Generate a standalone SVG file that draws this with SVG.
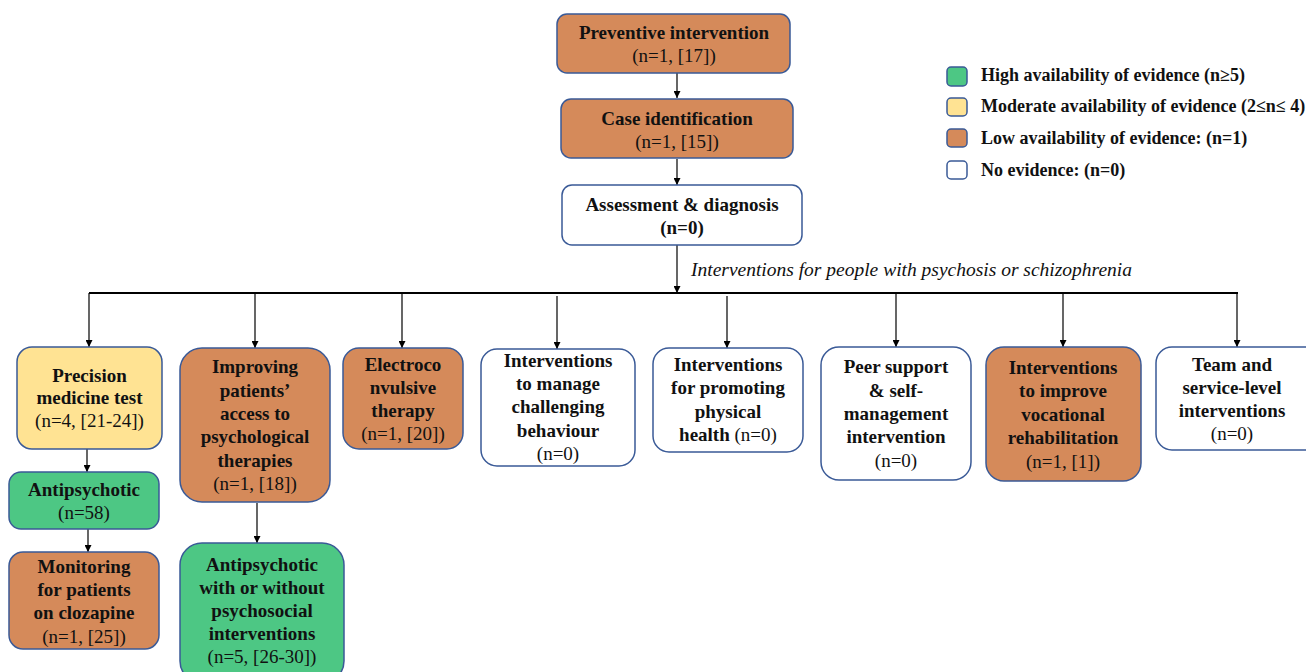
<svg xmlns="http://www.w3.org/2000/svg" width="1306" height="672" viewBox="0 0 1306 672">
<style>
  .box{stroke:#3A5A97;stroke-width:1.5}
  .low{fill:#D58A5A}
  .mod{fill:#FFE393}
  .high{fill:#4DC784}
  .none{fill:#FFFFFF}
  text{font-family:'Liberation Serif',Tinos,'Times New Roman',Times,'DejaVu Serif',serif;font-size:19px;fill:#111;text-anchor:middle}
  .b{font-weight:bold}
  .leg{font-size:18px;font-weight:bold;text-anchor:start}
  .lbl{font-style:italic;text-anchor:start}
  .ln{stroke:#000;stroke-width:1.2;fill:none}
</style>
<defs>
  <marker id="ah" viewBox="0 0 10 10" refX="10" refY="5" markerWidth="7" markerHeight="7" markerUnits="userSpaceOnUse" orient="auto">
    <path d="M0,0 L10,5 L0,10 z" fill="#000"/>
  </marker>
</defs>
<rect width="1306" height="672" fill="#fff"/>

<g id="connectors">
  <line class="ln" x1="677" y1="73" x2="677" y2="98" marker-end="url(#ah)"/>
  <line class="ln" x1="677" y1="159" x2="677" y2="185" marker-end="url(#ah)"/>
  <line class="ln" x1="677" y1="245" x2="677" y2="293" marker-end="url(#ah)"/>
  <line x1="89" y1="293" x2="1238" y2="293" stroke="#000" stroke-width="1.8"/>
  <line class="ln" x1="89" y1="293" x2="89" y2="347" marker-end="url(#ah)"/>
  <line class="ln" x1="255" y1="293" x2="255" y2="348" marker-end="url(#ah)"/>
  <line class="ln" x1="402" y1="293" x2="402" y2="348" marker-end="url(#ah)"/>
  <line class="ln" x1="557" y1="296" x2="557" y2="349" marker-end="url(#ah)"/>
  <line class="ln" x1="727" y1="296" x2="727" y2="348" marker-end="url(#ah)"/>
  <line class="ln" x1="896" y1="293" x2="896" y2="347" marker-end="url(#ah)"/>
  <line class="ln" x1="1063" y1="293" x2="1063" y2="347" marker-end="url(#ah)"/>
  <line class="ln" x1="1237" y1="293" x2="1237" y2="347" marker-end="url(#ah)"/>
  <line class="ln" x1="87" y1="449" x2="87" y2="472" marker-end="url(#ah)"/>
  <line class="ln" x1="88" y1="529" x2="88" y2="552" marker-end="url(#ah)"/>
  <line class="ln" x1="257" y1="503" x2="257" y2="543" marker-end="url(#ah)"/>
  <text class="lbl" x="691" y="276" textLength="441" lengthAdjust="spacingAndGlyphs">Interventions for people with psychosis or schizophrenia</text>
</g>

<g id="preventive">
  <rect class="box low" x="557" y="14" width="233" height="59" rx="10"/>
  <text class="b" x="674" y="39">Preventive intervention</text>
  <text x="674" y="62">(n=1, [17])</text>
</g>
<g id="case-identification">
  <rect class="box low" x="561" y="99" width="232" height="59" rx="10"/>
  <text class="b" x="677" y="125">Case identification</text>
  <text x="677" y="148">(n=1, [15])</text>
</g>
<g id="assessment">
  <rect class="box none" x="562" y="185" width="240" height="60" rx="10"/>
  <text class="b" x="682" y="211">Assessment &amp; diagnosis</text>
  <text class="b" x="682" y="234">(n=0)</text>
</g>

<g id="precision">
  <rect class="box mod" x="17" y="347" width="145" height="102" rx="15"/>
  <text class="b" x="89.5" y="382">Precision</text>
  <text class="b" x="89.5" y="404">medicine test</text>
  <text x="89.5" y="427">(n=4, [21-24])</text>
</g>
<g id="antipsychotic">
  <rect class="box high" x="9" y="472" width="150" height="57" rx="12"/>
  <text class="b" x="84" y="496">Antipsychotic</text>
  <text x="84" y="519">(n=58)</text>
</g>
<g id="monitoring">
  <rect class="box low" x="9" y="552" width="150" height="97" rx="14"/>
  <text class="b" x="84" y="573">Monitoring</text>
  <text class="b" x="84" y="596">for patients</text>
  <text class="b" x="84" y="619">on clozapine</text>
  <text x="84" y="643">(n=1, [25])</text>
</g>
<g id="improving">
  <rect class="box low" x="180" y="348" width="150" height="154" rx="22"/>
  <text class="b" x="255" y="373">Improving</text>
  <text class="b" x="255" y="397">patients’</text>
  <text class="b" x="255" y="420">access to</text>
  <text class="b" x="255" y="443">psychological</text>
  <text class="b" x="255" y="467">therapies</text>
  <text x="255" y="490">(n=1, [18])</text>
</g>
<g id="antipsychotic-psychosocial">
  <rect class="box high" x="180" y="543" width="164" height="140" rx="22"/>
  <text class="b" x="262" y="571">Antipsychotic</text>
  <text class="b" x="262" y="594">with or without</text>
  <text class="b" x="262" y="617">psychosocial</text>
  <text class="b" x="262" y="640">interventions</text>
  <text x="262" y="663">(n=5, [26-30])</text>
</g>
<g id="ect">
  <rect class="box low" x="343" y="348" width="120" height="101" rx="16"/>
  <text class="b" x="403" y="371">Electroco</text>
  <text class="b" x="403" y="394">nvulsive</text>
  <text class="b" x="403" y="417">therapy</text>
  <text x="403" y="440">(n=1, [20])</text>
</g>
<g id="challenging">
  <rect class="box none" x="481" y="349" width="154" height="117" rx="16"/>
  <text class="b" x="558" y="367">Interventions</text>
  <text class="b" x="558" y="390">to manage</text>
  <text class="b" x="558" y="413">challenging</text>
  <text class="b" x="558" y="437">behaviour</text>
  <text x="558" y="460">(n=0)</text>
</g>
<g id="physical-health">
  <rect class="box none" x="653" y="348" width="150" height="104" rx="16"/>
  <text class="b" x="728" y="371">Interventions</text>
  <text class="b" x="728" y="394">for promoting</text>
  <text class="b" x="728" y="418">physical</text>
  <text x="728" y="441"><tspan class="b">health</tspan> (n=0)</text>
</g>
<g id="peer-support">
  <rect class="box none" x="821" y="347" width="150" height="133" rx="18"/>
  <text class="b" x="896" y="373">Peer support</text>
  <text class="b" x="896" y="397">&amp; self-</text>
  <text class="b" x="896" y="420">management</text>
  <text class="b" x="896" y="443">intervention</text>
  <text x="896" y="467">(n=0)</text>
</g>
<g id="vocational">
  <rect class="box low" x="986" y="347" width="155" height="134" rx="18"/>
  <text class="b" x="1063" y="374">Interventions</text>
  <text class="b" x="1063" y="397">to improve</text>
  <text class="b" x="1063" y="421">vocational</text>
  <text class="b" x="1063" y="444">rehabilitation</text>
  <text x="1063" y="468">(n=1, [1])</text>
</g>
<g id="team">
  <rect class="box none" x="1156" y="347" width="166" height="103" rx="16"/>
  <text class="b" x="1232" y="371">Team and</text>
  <text class="b" x="1232" y="394">service-level</text>
  <text class="b" x="1232" y="417">interventions</text>
  <text x="1232" y="440">(n=0)</text>
</g>

<g id="legend">
  <rect class="box high" x="947" y="67" width="20" height="19" rx="4"/>
  <text class="leg" x="981" y="81">High availability of evidence (n≥5)</text>
  <rect class="box mod" x="947" y="98" width="20" height="18" rx="4"/>
  <text class="leg" x="981" y="112">Moderate availability of evidence (2≤n≤ 4)</text>
  <rect class="box low" x="947" y="129" width="20" height="18" rx="4"/>
  <text class="leg" x="981" y="144">Low availability of evidence: (n=1)</text>
  <rect class="box none" x="947" y="161" width="20" height="18" rx="4"/>
  <text class="leg" x="981" y="176">No evidence: (n=0)</text>
</g>
</svg>
